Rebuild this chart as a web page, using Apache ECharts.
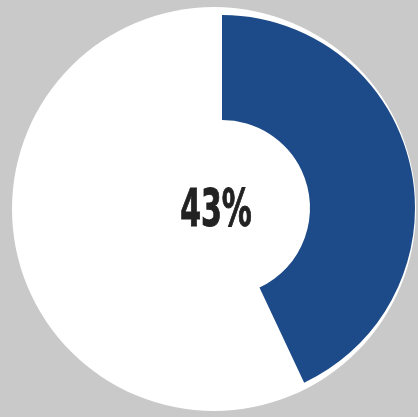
<!DOCTYPE html>
<html>
<head>
<meta charset="utf-8">
<script src="https://cdn.jsdelivr.net/npm/echarts@6/dist/echarts.min.js"></script>
<style>
html,body{margin:0;padding:0;background:#c9c9c9;}
#chart{width:418px;height:417px;}
</style>
</head>
<body>
<div id="chart"></div>
<script>
var categories = ['Share', 'Rest'];
var values = [43, 57];
var centerLabel = '43%';

var chart = echarts.init(document.getElementById('chart'));
chart.setOption({
  backgroundColor: '#c9c9c9',
  animation: false,
  series: [
    {
      type: 'pie',
      silent: true,
      center: [214, 209],
      radius: [0, 202],
      label: {show: false},
      itemStyle: {color: '#ffffff'},
      data: [{name: 'bg', value: 1}]
    },
    {
      type: 'pie',
      silent: true,
      center: [222, 208],
      radius: [88, 193],
      startAngle: 90,
      clockwise: true,
      label: {show: false},
      labelLine: {show: false},
      data: categories.map(function (c, i) {
        return {
          name: c,
          value: values[i],
          itemStyle: {color: i === 0 ? '#1d4a88' : 'rgba(0,0,0,0)'}
        };
      })
    }
  ],
  graphic: [
    {
      type: 'text',
      z: 100,
      x: 216,
      y: 212,
      scaleX: 0.64,
      style: {
        text: centerLabel,
        font: 'bold 52px "Liberation Sans Narrow", "DejaVu Sans Condensed", sans-serif',
        fill: '#222222',
        stroke: '#222222',
        lineWidth: 1,
        textAlign: 'center',
        textVerticalAlign: 'middle',
        align: 'center',
        verticalAlign: 'middle'
      }
    }
  ]
});
</script>
</body>
</html>
